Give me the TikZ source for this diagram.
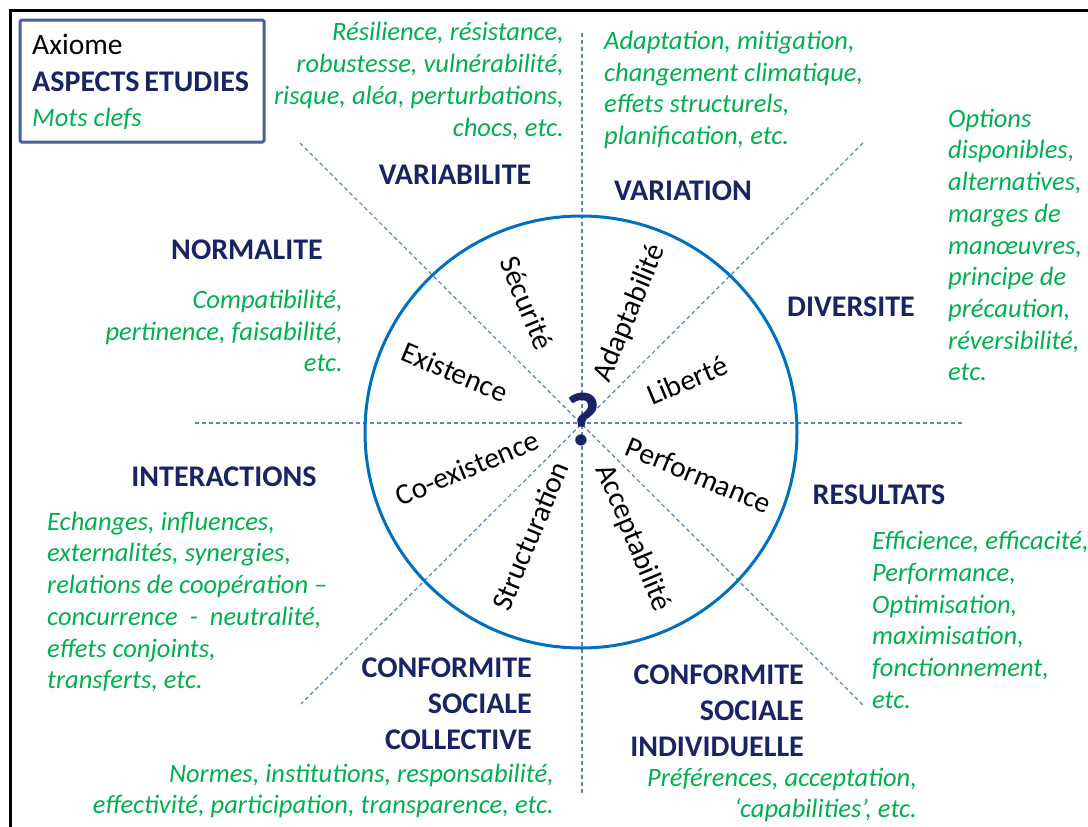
\documentclass[tikz,border=0pt]{standalone}
\usepackage{fontspec}
\setmainfont{Carlito}
\definecolor{navyc}{RGB}{24,36,100}
\definecolor{greenc}{RGB}{0,176,80}
\definecolor{circc}{RGB}{0,112,192}
\definecolor{dashc}{RGB}{95,130,200}
\definecolor{boxc}{RGB}{68,98,148}
\begin{document}
\begin{tikzpicture}[x=1pt,y=-1pt,
  hd/.style={font=\fontsize{30}{36}\selectfont\bfseries, text=navyc, inner sep=0pt},
  kw/.style={font=\fontsize{26.5}{31.7}\selectfont\itshape, text=greenc, inner sep=0pt},
  ax/.style={font=\fontsize{29.5}{32}\selectfont, text=black, inner sep=0pt},
  axis/.style={draw=dashc, line width=1.2pt, dash pattern=on 4pt off 3pt},
  legend/.style={draw=boxc, line width=3pt, rounded corners=1.5pt}]
\useasboundingbox (0,0) rectangle (1088,827);
\fill[white] (0,0) rectangle (1088,827);
% outer frame
\coordinate (fr1) at (1100,10);
\coordinate (fr2) at (10,10);
\coordinate (fr3) at (10,840);
\draw[line width=3pt] (fr1) -- (fr2) -- (fr3);
% legend
\draw[legend] (20,20) rectangle (264,142);
\node[font=\fontsize{29.5}{32}\selectfont, anchor=base west, inner sep=0pt] (lax) at (32,54) {Axiome};
\node[hd, anchor=base west] (lasp) at (32,91) {ASPECTS\hspace{-2pt} ETUDIES};
\node[kw, anchor=base west] (lmc) at (32,126) {Mots clefs};
% axes
\coordinate (n) at (582,33);
\coordinate (s) at (582,795);
\coordinate (w) at (195,423);
\coordinate (e) at (962,423);
\coordinate (nw) at (300,143);
\coordinate (se) at (863,705);
\coordinate (ne) at (863,143);
\coordinate (sw) at (301,704);
\draw[axis] (n) -- (s);
\draw[axis] (w) -- (e);
\draw[axis] (nw) -- (se);
\draw[axis] (ne) -- (sw);
% circle
\node[circle, draw=circc, line width=3pt, minimum size=432pt, inner sep=0pt] (circ) at (581,432) {};
\node[font=\fontsize{76}{80}\selectfont\bfseries, text=navyc, inner sep=0pt] (q) at (583,420) {?};
% words in circle
\node[ax, rotate=-67.5] (secu) at (527,303) {Sécurité};
\node[ax, rotate=67.5] (adap) at (630,313) {Adaptabilité};
\node[ax, rotate=-22.5] (exis) at (455,372) {Existence};
\node[ax, rotate=22.5] (libe) at (687,380) {Liberté};
\node[ax, rotate=22.5] (coex) at (467,468) {Co-existence};
\node[ax, rotate=-22.5] (perf) at (699,475) {Performance};
\node[ax, rotate=67.5] (stru) at (530,536) {Structuration};
\node[ax, rotate=-67.5] (acce) at (633,538) {Acceptabilité};
% headings
\node[hd] (variab) at (455,175) {VARIABILITE};
\node[hd] (variat) at (683,191) {VARIATION};
\node[hd] (norm) at (247,250) {NORMALITE};
\node[hd] (dive) at (851,307) {DIVERSITE};
\node[hd] (inte) at (224,477) {INTERACTIONS};
\node[hd] (resu) at (879,495) {RESULTATS};
\node[hd, align=right, anchor=east] (csc) at (532,704) {CONFORMITE\\SOCIALE\\COLLECTIVE};
\node[hd, align=right, anchor=east] (csi) at (804,711) {CONFORMITE\\SOCIALE\\INDIVIDUELLE};
% keywords
\node[kw, align=right, anchor=east] (k1) at (564,81) {Résilience, résistance,\\robustesse, vulnérabilité,\\risque, aléa, perturbations,\\chocs, etc.};
\node[kw, align=left, anchor=west] (k2) at (604,90) {Adaptation, mitigation,\\changement climatique,\\effets structurels,\\planification, etc.};
\node[kw, align=right, anchor=east] (k3) at (343,331) {Compatibilité,\\pertinence, faisabilité,\\etc.};
\node[kw, align=left, anchor=west] (k4) at (948,245) {Options\\disponibles,\\alternatives,\\marges de\\manœuvres,\\principe de\\précaution,\\réversibilité,\\etc.};
\node[kw, align=left, anchor=west] (k5) at (47,602) {Echanges, influences,\\externalités, synergies,\\relations de coopération –\\concurrence\ \ -\ \ neutralité,\\effets conjoints,\\transferts, etc.};
\node[kw, align=left, anchor=west] (k6) at (872,620) {Efficience, efficacité,\\Performance,\\Optimisation,\\maximisation,\\fonctionnement,\\etc.};
\node[kw, align=right, anchor=east] (k7) at (554,791) {Normes, institutions, responsabilité,\\effectivité, participation, transparence, etc.};
\node[kw, align=right, anchor=east] (k8) at (917,795) {Préférences, acceptation,\\‘capabilities’, etc.};
\end{tikzpicture}
\end{document}
